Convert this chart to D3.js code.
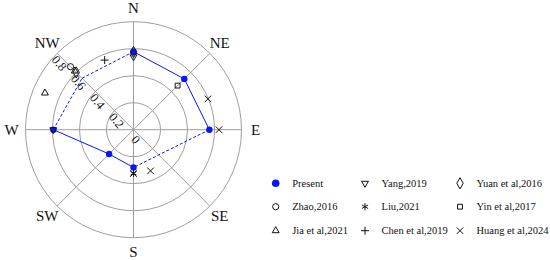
<!DOCTYPE html>
<html>
<head>
<meta charset="utf-8">
<script src="https://cdn.jsdelivr.net/npm/d3@7"></script>
<style>
  body { margin: 0; background: #fff; }
  svg { display: block; font-family: "Liberation Serif", "Times New Roman", serif; }
</style>
</head>
<body>
<div id="chart"></div>
<script>
// directions and radial ticks
const directions = ['N', 'NE', 'E', 'SE', 'S', 'SW', 'W', 'NW']
const radialTicks = [0, 0.2, 0.4, 0.6, 0.8]

// present study, one value per direction (null = no data)
const presentValues = [0.578, 0.532, 0.562, null, 0.28, 0.255, 0.594, 0.539]
const presentMeasured = [true, true, true, false, true, true, true, false]

// literature values, angle in degrees from north
const zhaoAngles = [315]
const zhaoValues = [0.66]
const jiaAngles = [292.5, 315]
const jiaValues = [0.71, 0.615]
const yangAngles = [0, 270]
const yangValues = [0.54, 0.594]
const liuAngles = [180]
const liuValues = [0.323]
const chenAngles = [337.5]
const chenValues = [0.558]
const yuanAngles = [0, 315]
const yuanValues = [0.575, 0.6]
const yinAngles = [45]
const yinValues = [0.462]
const huangAngles = [67.5, 90, 157.5, 180]
const huangValues = [0.597, 0.633, 0.33, 0.325]

const width = 550
const height = 260
const cx = 133.5
const cy = 129.7
const outerR = 108
const blue = '#0a14ff'
const grey = '#9e9e9e'

const rScale = d3.scaleLinear().domain([0, 0.8]).range([0, outerR])
const aScale = d3.scaleLinear().domain([0, 360]).range([0, 2 * Math.PI])

const px = (deg, v) => Math.sin(aScale(deg)) * rScale(v)
const py = (deg, v) => -Math.cos(aScale(deg)) * rScale(v)

const sym = (type, size) => d3.symbol().type(type).size(size)()

// custom thin plus drawn as strokes
const plusPath = (s) => `M${-s},0H${s}M0,${-s}V${s}`

const others = [
  { name: 'Zhao,2016', angles: zhaoAngles, values: zhaoValues, path: sym(d3.symbolCircle, 30) },
  { name: 'Jia et al,2021', angles: jiaAngles, values: jiaValues, path: sym(d3.symbolTriangle2, 34) },
  { name: 'Yang,2019', angles: yangAngles, values: yangValues, path: sym(d3.symbolTriangle2, 34), rotate: 180 },
  { name: 'Liu,2021', angles: liuAngles, values: liuValues, path: sym(d3.symbolAsterisk, 36) },
  { name: 'Chen et al,2019', angles: chenAngles, values: chenValues, path: plusPath(4) },
  { name: 'Yuan et al,2016', angles: yuanAngles, values: yuanValues, path: sym(d3.symbolDiamond, 36) },
  { name: 'Yin et al,2017', angles: yinAngles, values: yinValues, path: sym(d3.symbolSquare2, 30) },
  { name: 'Huang et al,2024', angles: huangAngles, values: huangValues, path: sym(d3.symbolTimes, 30) }
]

const svg = d3
  .select('#chart')
  .append('svg')
  .attr('width', width)
  .attr('height', height)

const polar = svg.append('g').attr('transform', `translate(${cx}, ${cy})`)

// rings
polar
  .selectAll('.ring')
  .data(radialTicks.slice(1))
  .enter()
  .append('circle')
  .attr('r', (d) => rScale(d))
  .attr('fill', 'none')
  .attr('stroke', grey)
  .attr('stroke-width', 1)

// spokes
polar
  .selectAll('.spoke')
  .data(directions)
  .enter()
  .append('line')
  .attr('x1', 0)
  .attr('y1', 0)
  .attr('x2', (d, i) => px(i * 45, 0.8))
  .attr('y2', (d, i) => py(i * 45, 0.8))
  .attr('stroke', grey)
  .attr('stroke-width', 1)

// direction labels
polar
  .selectAll('.dir')
  .data(directions)
  .enter()
  .append('text')
  .attr('x', (d, i) => px(i * 45, 0.8) * 122 / outerR)
  .attr('y', (d, i) => py(i * 45, 0.8) * 122 / outerR)
  .attr('text-anchor', 'middle')
  .attr('dominant-baseline', 'central')
  .attr('font-size', 15)
  .attr('fill', '#111')
  .text((d) => d)

// radial tick labels along the NW spoke
polar
  .selectAll('.rtick')
  .data(radialTicks)
  .enter()
  .append('text')
  .attr('transform', (d) => `translate(${px(315, d) + 2}, ${py(315, d) + 10}) rotate(50)`)
  .attr('text-anchor', 'middle')
  .attr('dominant-baseline', 'central')
  .attr('font-size', 12.5)
  .attr('fill', '#111')
  .text((d) => d)

// present line: dashed where a value is estimated or a direction is skipped
const present = presentValues
  .map((v, i) => ({ i, v, measured: presentMeasured[i] }))
  .filter((d) => d.v !== null)

const segments = present.map((d, k) => {
  const next = present[(k + 1) % present.length]
  const gap = (next.i - d.i + 8) % 8 > 1
  return { a: d, b: next, dashed: gap || !d.measured || !next.measured }
})

polar
  .selectAll('.seg')
  .data(segments)
  .enter()
  .append('line')
  .attr('x1', (d) => px(d.a.i * 45, d.a.v))
  .attr('y1', (d) => py(d.a.i * 45, d.a.v))
  .attr('x2', (d) => px(d.b.i * 45, d.b.v))
  .attr('y2', (d) => py(d.b.i * 45, d.b.v))
  .attr('stroke', blue)
  .attr('stroke-width', 1)
  .attr('stroke-dasharray', (d) => (d.dashed ? '3,2' : null))

// present dots
polar
  .selectAll('.dot')
  .data(present.filter((d) => d.measured))
  .enter()
  .append('circle')
  .attr('cx', (d) => px(d.i * 45, d.v))
  .attr('cy', (d) => py(d.i * 45, d.v))
  .attr('r', 3.2)
  .attr('fill', blue)

// literature markers
others.forEach((s) => {
  polar
    .selectAll(null)
    .data(s.values)
    .enter()
    .append('path')
    .attr('d', s.path)
    .attr('transform', (d, k) => `translate(${px(s.angles[k], d)}, ${py(s.angles[k], d)}) rotate(${s.rotate || 0})`)
    .attr('fill', 'none')
    .attr('stroke', '#111')
    .attr('stroke-width', 1)
})

// legend
const legendCols = [275.7, 365, 460]
const legendRows = [183.3, 206.7, 230.7]
const legendItems = [{ name: 'Present', present: true }, ...others]

const legend = svg
  .selectAll('.legend')
  .data(legendItems)
  .enter()
  .append('g')
  .attr('transform', (d, i) => `translate(${legendCols[Math.floor(i / 3)]}, ${legendRows[i % 3]})`)

legend.each(function (d) {
  const g = d3.select(this)
  if (d.present) {
    g.append('circle').attr('r', 3.8).attr('fill', blue)
  } else {
    g.append('path')
      .attr('d', d.path)
      .attr('transform', `rotate(${d.rotate || 0})`)
      .attr('fill', 'none')
      .attr('stroke', '#111')
      .attr('stroke-width', 1)
  }
})

legend
  .append('text')
  .attr('x', 16.5)
  .attr('dominant-baseline', 'central')
  .attr('font-size', 10.5)
  .attr('fill', '#111')
  .text((d) => d.name)
</script>
</body>
</html>
